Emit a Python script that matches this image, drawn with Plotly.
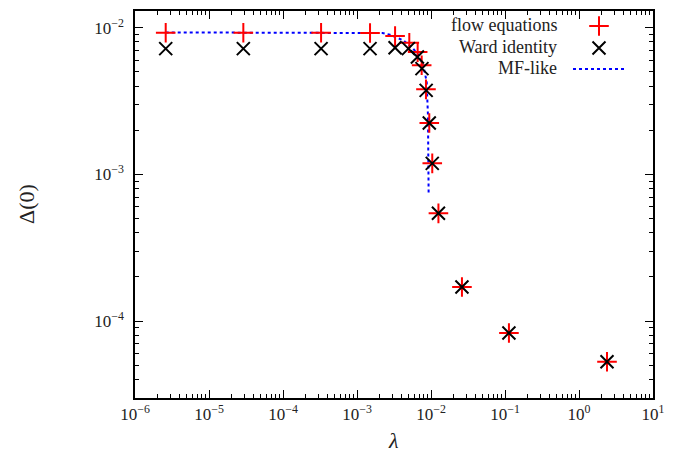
import plotly.graph_objects as go

# ---- data ----
flow_lambda = [2.60e-6, 2.91e-5, 3.27e-4, 1.50e-3, 3.27e-3, 5.09e-3, 6.60e-3, 7.48e-3,
               8.55e-3, 9.48e-3, 1.04e-2, 1.26e-2, 2.62e-2, 1.13e-1, 2.39]
flow_delta = [9.25e-3, 9.25e-3, 9.25e-3, 9.20e-3, 8.77e-3, 7.90e-3, 6.82e-3, 5.55e-3,
              3.80e-3, 2.24e-3, 1.19e-3, 5.43e-4, 1.71e-4, 8.30e-5, 5.28e-5]

ward_lambda = [2.60e-6, 2.91e-5, 3.27e-4, 1.50e-3, 3.27e-3, 4.95e-3, 6.55e-3, 7.55e-3,
               8.60e-3, 9.48e-3, 1.04e-2, 1.26e-2, 2.62e-2, 1.13e-1, 2.39]
ward_delta = [7.20e-3, 7.20e-3, 7.20e-3, 7.20e-3, 7.30e-3, 7.20e-3, 6.31e-3, 5.26e-3,
              3.74e-3, 2.24e-3, 1.19e-3, 5.43e-4, 1.71e-4, 8.30e-5, 5.28e-5]

mf_lambda = [2.60e-6, 1.0e-4, 1.50e-3, 2.20e-3, 2.79e-3, 4.23e-3, 5.77e-3, 7.10e-3, 8.04e-3,
             8.75e-3, 8.91e-3, 9.10e-3, 9.18e-3, 9.29e-3]
mf_delta = [9.29e-3, 9.29e-3, 9.29e-3, 9.20e-3, 8.95e-3, 8.20e-3, 7.19e-3, 6.31e-3, 5.26e-3,
            4.27e-3, 3.29e-3, 2.53e-3, 1.46e-3, 7.46e-4]

x_major = [1e-6, 1e-5, 1e-4, 1e-3, 1e-2, 1e-1, 1e0, 1e1]
x_labels = ["10<sup>−6</sup>", "10<sup>−5</sup>", "10<sup>−4</sup>", "10<sup>−3</sup>",
            "10<sup>−2</sup>", "10<sup>−1</sup>", "10<sup>0</sup>", "10<sup>1</sup>"]
y_major = [1e-4, 1e-3, 1e-2]
y_labels = ["10<sup>−4</sup>", "10<sup>−3</sup>", "10<sup>−2</sup>"]

series_names = ["flow equations", "Ward identity", "MF-like"]
x_title = "<i>λ</i>"
y_title = "Δ(0)"

x_minor = [m * 10.0 ** e for e in range(-6, 1) for m in range(2, 10)]
y_minor = [m * 10.0 ** e for e in range(-5, -1) for m in range(2, 10)]

# ---- styling ----
FONT = "Liberation Serif, Times New Roman, serif"
TXT = "#222222"
RED, BLACK, BLUE = "#ff0000", "#000000", "#0000ff"
W, H = 678, 455
L, R, T, B = 135, 25, 11, 57
PW, PH = W - L - R, H - T - B


def px_to_paper(px, py):
    return (px - L) / PW, (H - B - py) / PH


fig = go.Figure()
fig.add_trace(go.Scatter(x=mf_lambda, y=mf_delta, mode="lines",
                         line=dict(color=BLUE, width=2, dash="dot"), showlegend=False))
fig.add_trace(go.Scatter(x=flow_lambda, y=flow_delta, mode="markers",
                         marker=dict(symbol="cross-thin", size=14, line=dict(color=RED, width=2)),
                         showlegend=False))
fig.add_trace(go.Scatter(x=ward_lambda, y=ward_delta, mode="markers",
                         marker=dict(symbol="x-thin", size=13, line=dict(color=BLACK, width=2)),
                         showlegend=False))

# ---- gnuplot-style key (text left of sample), drawn on an overlay pixel axis ----
plot_x0, plot_x1 = L, W - R
plot_y0, plot_y1 = H - B, T
key_text_x = 559
key_rows_y = [25, 47, 68]
key_sample_x = 599
key_line_x = [573, 627]

fig.add_trace(go.Scatter(x=[key_sample_x], y=[key_rows_y[0] + 1], mode="markers", xaxis="x2", yaxis="y2",
                         marker=dict(symbol="cross-thin", size=14, line=dict(color=RED, width=2)),
                         showlegend=False, hoverinfo="skip"))
fig.add_trace(go.Scatter(x=[key_sample_x], y=[key_rows_y[1] + 1], mode="markers", xaxis="x2", yaxis="y2",
                         marker=dict(symbol="x-thin", size=13, line=dict(color=BLACK, width=2)),
                         showlegend=False, hoverinfo="skip"))
fig.add_trace(go.Scatter(x=key_line_x, y=[key_rows_y[2] + 1] * 2, mode="lines", xaxis="x2", yaxis="y2",
                         line=dict(color=BLUE, width=2, dash="dot"),
                         showlegend=False, hoverinfo="skip"))
for name, yy in zip(series_names, key_rows_y):
    fig.add_annotation(x=key_text_x, y=yy, xref="x2", yref="y2", text=name, showarrow=False,
                       xanchor="right", yanchor="middle", font=dict(family=FONT, size=18, color=TXT))

# axis titles (paper coordinates, outside the plot area)
xt_x, xt_y = px_to_paper(393, 440)
fig.add_annotation(x=xt_x, y=xt_y, xref="paper", yref="paper", text=x_title, showarrow=False,
                   xanchor="center", yanchor="middle", font=dict(family=FONT, size=22, color=TXT))
yt_x, yt_y = px_to_paper(27, 204)
fig.add_annotation(x=yt_x, y=yt_y, xref="paper", yref="paper", text=y_title, showarrow=False,
                   textangle=-90, xanchor="center", yanchor="middle",
                   font=dict(family=FONT, size=22, color=TXT))

axis_common = dict(type="log", showgrid=False, zeroline=False, showline=True, linecolor="black",
                   linewidth=1.5, mirror="ticks", ticks="inside", ticklen=8, tickwidth=1,
                   tickcolor="black", tickfont=dict(family=FONT, size=17, color=TXT),
                   tickmode="array", automargin=False)

fig.update_layout(
    width=W, height=H, margin=dict(l=L, r=R, t=T, b=B, autoexpand=False),
    paper_bgcolor="white", plot_bgcolor="white",
    xaxis=dict(**axis_common, range=[-6, 1], tickvals=x_major, ticktext=x_labels,
               minor=dict(tickmode="array", tickvals=x_minor, ticks="inside", ticklen=4,
                          tickcolor="black", tickwidth=1)),
    yaxis=dict(**axis_common, range=[-4.524, -1.886], tickvals=y_major, ticktext=y_labels,
               ticklabelstandoff=6,
               minor=dict(tickmode="array", tickvals=y_minor, ticks="inside", ticklen=4,
                          tickcolor="black", tickwidth=1)),
    xaxis2=dict(overlaying="x", range=[plot_x0, plot_x1], visible=False, fixedrange=True),
    yaxis2=dict(overlaying="y", range=[plot_y0, plot_y1], visible=False, fixedrange=True),
    showlegend=False,
)

fig.write_html("out.html")
